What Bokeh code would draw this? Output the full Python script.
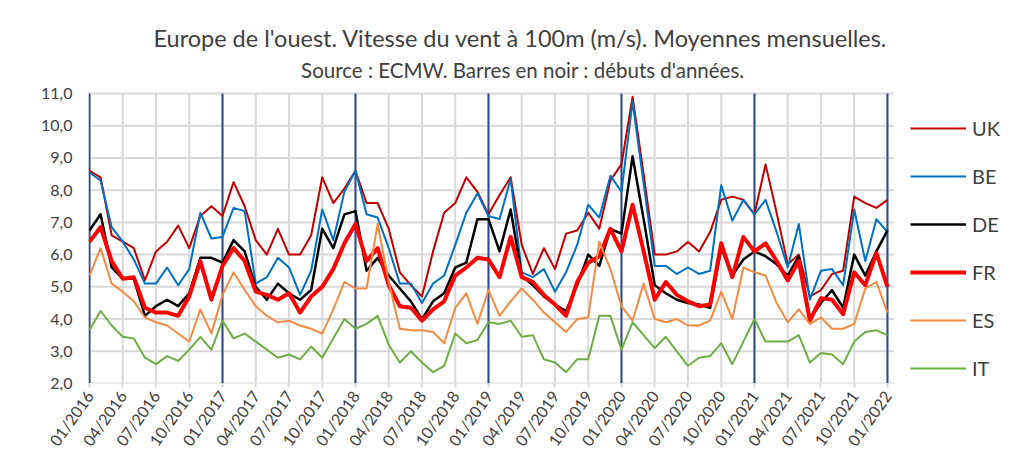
from bokeh.plotting import figure
from bokeh.models import (Range1d, FixedTicker, CustomJSTickFormatter, Legend,
                          LegendItem, Label)
from bokeh.embed import file_html
from bokeh.resources import INLINE

months = [f"{m:02d}/{y}" for y in range(2016, 2023) for m in range(1, 13)][:73]

UK = [8.6, 8.4, 6.6, 6.4, 6.2, 5.2, 6.1, 6.4, 6.9, 6.2, 7.2, 7.5,
      7.2, 8.25, 7.5, 6.45, 6.0, 6.8, 6.0, 6.0, 6.6, 8.4, 7.6, 8.05,
      8.6, 7.6, 7.6, 6.8, 5.45, 5.05, 4.7, 6.1, 7.3, 7.6, 8.4, 7.95,
      7.25, 7.85, 8.4, 6.3, 5.4, 6.2, 5.55, 6.65, 6.75, 7.3, 6.8, 8.3,
      8.8, 10.9, 8.5, 6.0, 6.0, 6.1, 6.4, 6.1, 6.7, 7.7, 7.8, 7.7,
      7.25, 8.8, 7.3, 5.7, 6.0, 4.7, 4.9, 5.4, 5.5, 7.8, 7.6, 7.45,
      7.7]
BE = [8.55, 8.3, 6.85, 6.4, 5.85, 5.1, 5.1, 5.6, 5.05, 5.55, 7.3, 6.5,
      6.55, 7.45, 7.35, 5.1, 5.3, 5.9, 5.6, 4.75, 5.5, 7.4, 6.45, 7.95,
      8.6, 7.25, 7.15, 6.2, 5.1, 5.1, 4.5, 5.1, 5.35, 6.3, 7.3, 7.9,
      7.2, 7.1, 8.35, 5.45, 5.3, 5.55, 4.85, 5.45, 6.3, 7.55, 7.15, 8.45,
      7.95, 10.75, 8.2, 5.65, 5.65, 5.4, 5.6, 5.4, 5.5, 8.15, 7.05, 7.7,
      7.25, 7.7, 6.7, 5.6, 6.95, 4.6, 5.5, 5.55, 5.05, 7.4, 5.8, 7.1,
      6.7]
DE = [6.75, 7.25, 5.6, 5.25, 5.25, 4.1, 4.4, 4.6, 4.4, 4.8, 5.9, 5.9,
      5.75, 6.45, 6.1, 5.0, 4.6, 5.1, 4.8, 4.6, 4.9, 6.8, 6.2, 7.25,
      7.35, 5.5, 5.9, 5.35, 4.95, 4.55, 4.0, 4.55, 4.8, 5.6, 5.75, 7.1,
      7.1, 6.1, 7.4, 5.35, 5.05, 4.7, 4.45, 4.25, 5.05, 6.0, 5.65, 6.8,
      6.65, 9.05, 7.1, 5.05, 4.8, 4.6, 4.5, 4.45, 4.35, 6.2, 5.35, 5.85,
      6.1, 5.95, 5.7, 5.35, 5.95, 4.0, 4.5, 4.9, 4.35, 6.0, 5.35, 6.1,
      6.75]
FR = [6.4, 6.85, 5.8, 5.25, 5.3, 4.35, 4.2, 4.2, 4.1, 4.7, 5.8, 4.6,
      5.65, 6.2, 5.8, 4.85, 4.75, 4.6, 4.8, 4.2, 4.7, 5.0, 5.55, 6.35,
      6.95, 5.8, 6.2, 5.05, 4.4, 4.35, 3.95, 4.3, 4.55, 5.35, 5.6, 5.9,
      5.85, 5.3, 6.55, 5.3, 5.15, 4.75, 4.45, 4.1, 5.15, 5.75, 5.95, 6.8,
      6.1, 7.55, 6.1, 4.6, 5.15, 4.75, 4.55, 4.4, 4.45, 6.35, 5.3, 6.55,
      6.1, 6.35, 5.8, 5.2, 5.8, 3.95, 4.65, 4.6, 4.15, 5.45, 5.05, 6.05,
      5.0]
ES = [5.35, 6.2, 5.1, 4.85, 4.55, 4.05, 3.9, 3.8, 3.55, 3.3, 4.3, 3.55,
      4.75, 5.45, 4.9, 4.4, 4.1, 3.9, 3.95, 3.8, 3.7, 3.55, 4.3, 5.15,
      4.95, 4.95, 6.95, 5.15, 3.7, 3.65, 3.65, 3.6, 3.25, 4.35, 4.8, 3.85,
      4.9, 4.1, 4.55, 4.95, 4.6, 4.2, 3.9, 3.6, 4.0, 4.05, 6.4, 5.55,
      4.4, 3.95, 5.1, 4.0, 3.9, 4.0, 3.8, 3.8, 3.95, 4.85, 4.0, 5.6,
      5.45, 5.35, 4.5, 3.9, 4.3, 3.85, 4.05, 3.7, 3.7, 3.85, 4.95, 5.15,
      4.2]
IT = [3.65, 4.25, 3.8, 3.45, 3.4, 2.8, 2.6, 2.85, 2.7, 3.05, 3.45, 3.05,
      3.95, 3.4, 3.55, 3.3, 3.05, 2.8, 2.9, 2.75, 3.15, 2.8, 3.4, 4.0,
      3.7, 3.85, 4.1, 3.2, 2.65, 3.0, 2.65, 2.35, 2.55, 3.55, 3.25, 3.35,
      3.9, 3.85, 3.95, 3.45, 3.5, 2.75, 2.65, 2.35, 2.75, 2.75, 4.1, 4.1,
      3.05, 3.9, 3.5, 3.1, 3.45, 3.0, 2.55, 2.8, 2.85, 3.25, 2.6, 3.3,
      4.0, 3.3, 3.3, 3.3, 3.5, 2.65, 2.95, 2.9, 2.6, 3.3, 3.6, 3.65,
      3.5]

names = ["UK", "BE", "DE", "FR", "ES", "IT"]
values = [UK, BE, DE, FR, ES, IT]
colors = ["#C00000", "#0070C0", "#000000", "#FF0000", "#F28C43", "#70AD47"]
widths = [2, 2, 2.5, 4, 2, 2]
y_ticks = [2, 3, 4, 5, 6, 7, 8, 9, 10, 11]

title = "Europe de l'ouest. Vitesse du vent à 100m (m/s). Moyennes mensuelles."
subtitle = "Source : ECMW. Barres en noir : débuts d'années."

FONT = "Lato"
TXT = "#404040"
GRID = "#D9D9D9"

x = list(range(len(months)))
tick_idx = x[::3]
year_idx = [i for i, m in enumerate(months) if m.startswith("01/")]
y_lo, y_hi = y_ticks[0], y_ticks[-1]
x_lo, x_hi = -0.15, x[-1] + 0.6

# frame covers the whole canvas above the x labels (titles/legend drawn inside it)
p = figure(width=1005, height=467, x_range=Range1d(-0.09, 82.65), y_range=Range1d(2, 13.886),
           output_backend="svg", toolbar_location=None,
           min_border_left=88, min_border_right=0, min_border_top=0, min_border_bottom=84)
p.outline_line_color = None
p.background_fill_color = "white"
p.xgrid.visible = False
p.ygrid.visible = False

# grid lines
p.segment(x0=[x_lo] * len(y_ticks), y0=y_ticks, x1=[x_hi] * len(y_ticks), y1=y_ticks,
          line_color=GRID, line_width=2)
p.segment(x0=tick_idx, y0=[y_lo] * len(tick_idx), x1=tick_idx, y1=[y_hi] * len(tick_idx),
          line_color=GRID, line_width=2)
# year lines
p.segment(x0=year_idx, y0=[y_lo] * len(year_idx), x1=year_idx, y1=[y_hi] * len(year_idx),
          line_color="#2F4B8A", line_width=2)

items = []
for n, v, c, w in zip(names, values, colors, widths):
    r = p.line(x, v, line_color=c, line_width=w, line_join="round")
    items.append(LegendItem(label=n, renderers=[r]))

legend = Legend(items=items, location=(822, 0), margin=0, padding=2,
                glyph_width=56, glyph_height=30, label_height=30, label_standoff=6,
                spacing=18, border_line_color=None, background_fill_alpha=0,
                label_text_font=FONT, label_text_font_size="20px", label_text_color=TXT)
p.add_layout(legend)

p.xaxis.ticker = FixedTicker(ticks=tick_idx)
p.xaxis.bounds = (x_lo, x_hi)
p.xaxis.major_label_overrides = {i: months[i] for i in tick_idx}
p.xaxis.major_label_orientation = 0.95
p.xaxis.major_label_text_font = FONT
p.xaxis.major_label_text_font_size = "16px"
p.xaxis.major_label_text_color = TXT
p.xaxis.axis_line_color = None
p.xaxis.major_tick_line_color = GRID
p.xaxis.major_tick_line_width = 2
p.xaxis.major_tick_out = 4
p.xaxis.major_tick_in = 0
p.xaxis.minor_tick_line_color = None

p.yaxis.ticker = FixedTicker(ticks=y_ticks)
p.yaxis.bounds = (y_lo, y_hi)
p.yaxis.formatter = CustomJSTickFormatter(code="return tick.toFixed(1).replace('.', ',');")
p.yaxis.major_label_text_font = FONT
p.yaxis.major_label_text_font_size = "16px"
p.yaxis.major_label_text_color = TXT
p.yaxis.axis_line_color = None
p.yaxis.major_tick_line_color = None
p.yaxis.major_tick_out = 0
p.yaxis.minor_tick_line_color = None
p.yaxis.major_label_standoff = 16

p.add_layout(Label(x=38.9, y=12.707, text=title, text_font=FONT, text_font_size="23.5px",
                   text_color=TXT, text_align="center", text_baseline="middle"))
p.add_layout(Label(x=39.1, y=11.714, text=subtitle, text_font=FONT, text_font_size="20.5px",
                   text_color=TXT, text_align="center", text_baseline="middle"))

open("out.html", "w").write(file_html(p, INLINE))
